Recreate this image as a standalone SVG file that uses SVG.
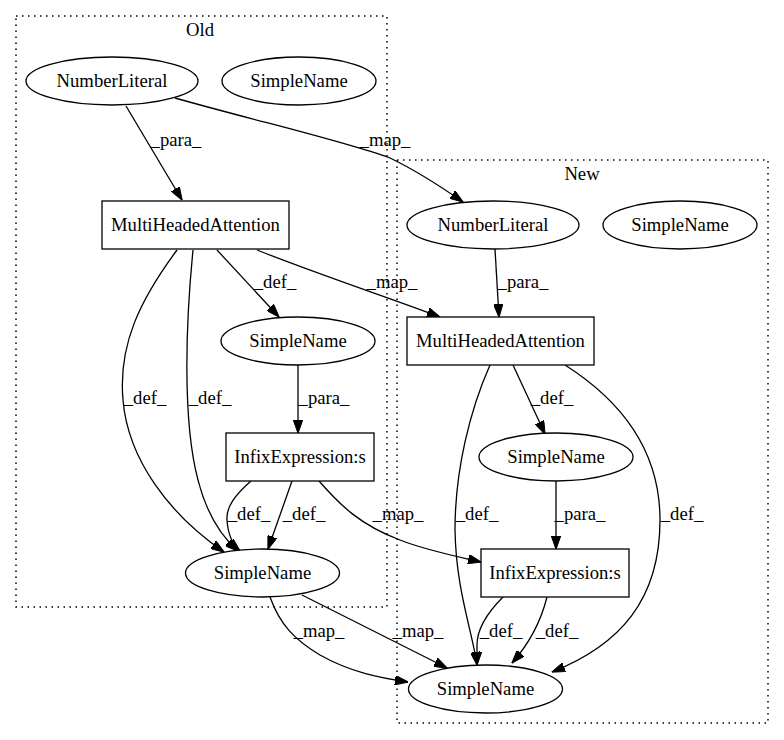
<svg xmlns="http://www.w3.org/2000/svg" width="784" height="740" viewBox="0 0 784 740">
<style>
text{font-family:'Liberation Serif','Times New Roman',serif;font-size:18.67px;fill:#000;text-anchor:middle}
.cl{fill:none;stroke:#000;stroke-width:1.5;stroke-dasharray:1.5,4.5}
.n{fill:#fff;stroke:#000;stroke-width:1.3}
.e{fill:none;stroke:#000;stroke-width:1.3;marker-end:url(#ah)}
</style>
<defs>
<marker id="ah" markerUnits="userSpaceOnUse" viewBox="0 0 13.3 9.4" markerWidth="13.3" markerHeight="9.4" refX="13" refY="4.7" orient="auto">
<polygon points="0,0 13.3,4.7 0,9.4" fill="#000" stroke="#000" stroke-width="1"/>
</marker>
</defs>
<rect width="784" height="740" fill="#fff"/>
<g id="cluster_old">
<rect class="cl" x="16" y="16" width="371" height="591"/>
<text x="200" y="36">Old</text>
</g>
<g id="cluster_new">
<rect class="cl" x="397" y="160" width="371" height="563"/>
<text x="582" y="180">New</text>
</g>
<g id="edges">
<path class="e" d="M126,106 L182,200"/>
<text x="176" y="146">_para_</text>
<path class="e" d="M175,98 C260,122 340,140 390,158 C415,170 440,186 463,202"/>
<text x="385" y="146">_map_</text>
<path class="e" d="M217,250 L279,317"/>
<text x="275" y="288">_def_</text>
<path class="e" d="M257,250 C320,275 390,298 440,317"/>
<text x="392" y="288">_map_</text>
<path class="e" d="M177,250 C140,300 118,345 123,400 C128,460 170,515 224,552"/>
<text x="145" y="404">_def_</text>
<path class="e" d="M193,250 C186,320 182,420 198,480 C207,515 222,537 238,551"/>
<text x="210" y="404">_def_</text>
<path class="e" d="M298,365 L298,433"/>
<text x="324" y="404">_para_</text>
<path class="e" d="M251,481 C235,495 226,507 227,520 C228,535 233,545 240,551"/>
<text x="249" y="520">_def_</text>
<path class="e" d="M292,481 L268,549"/>
<text x="304" y="520">_def_</text>
<path class="e" d="M319,481 C340,505 360,525 400,540 C425,550 455,556 481,562"/>
<text x="398" y="520">_map_</text>
<path class="e" d="M270,597 C280,625 295,640 320,655 C350,672 380,678 408,682"/>
<text x="319" y="637">_map_</text>
<path class="e" d="M302,595 L447,668"/>
<text x="418" y="637">_map_</text>
<path class="e" d="M495,249 L499,317"/>
<text x="523" y="288">_para_</text>
<path class="e" d="M513,365 L545,434"/>
<text x="552" y="404">_def_</text>
<path class="e" d="M490,365 C470,410 455,470 455,530 C456,590 472,630 477,665"/>
<text x="477" y="520">_def_</text>
<path class="e" d="M565,365 C620,400 660,450 660,520 C660,600 620,645 552,672"/>
<text x="682" y="520">_def_</text>
<path class="e" d="M556,481 L556,549"/>
<text x="580" y="520">_para_</text>
<path class="e" d="M503,597 C485,615 477,630 477,645 C477,652 477,658 477,665"/>
<text x="501" y="637">_def_</text>
<path class="e" d="M547,597 C540,625 528,645 512,663"/>
<text x="557" y="637">_def_</text>
</g>
<g id="old_numberliteral"><ellipse class="n" cx="112" cy="81" rx="86" ry="24"/><text x="112" y="87">NumberLiteral</text></g>
<g id="old_simplename_top"><ellipse class="n" cx="299" cy="81" rx="77" ry="24"/><text x="299" y="87">SimpleName</text></g>
<g id="old_mha"><rect class="n" x="102" y="201" width="187" height="48"/><text x="195.5" y="231">MultiHeadedAttention</text></g>
<g id="old_simplename_mid"><ellipse class="n" cx="298" cy="341" rx="77" ry="24"/><text x="298" y="347">SimpleName</text></g>
<g id="old_infix"><rect class="n" x="226" y="433" width="148" height="48"/><text x="300" y="463">InfixExpression:s</text></g>
<g id="old_simplename_bottom"><ellipse class="n" cx="262.5" cy="573" rx="77" ry="24"/><text x="262.5" y="579">SimpleName</text></g>
<g id="new_numberliteral"><ellipse class="n" cx="493" cy="225" rx="86" ry="24"/><text x="493" y="231">NumberLiteral</text></g>
<g id="new_simplename_top"><ellipse class="n" cx="680" cy="225" rx="77" ry="24"/><text x="680" y="231">SimpleName</text></g>
<g id="new_mha"><rect class="n" x="407" y="317" width="187" height="48"/><text x="500.5" y="347">MultiHeadedAttention</text></g>
<g id="new_simplename_mid"><ellipse class="n" cx="556" cy="457" rx="77" ry="24"/><text x="556" y="463">SimpleName</text></g>
<g id="new_infix"><rect class="n" x="481" y="549" width="148" height="48"/><text x="555" y="579">InfixExpression:s</text></g>
<g id="new_simplename_bottom"><ellipse class="n" cx="485.5" cy="689" rx="77" ry="24"/><text x="485.5" y="695">SimpleName</text></g>
</svg>
